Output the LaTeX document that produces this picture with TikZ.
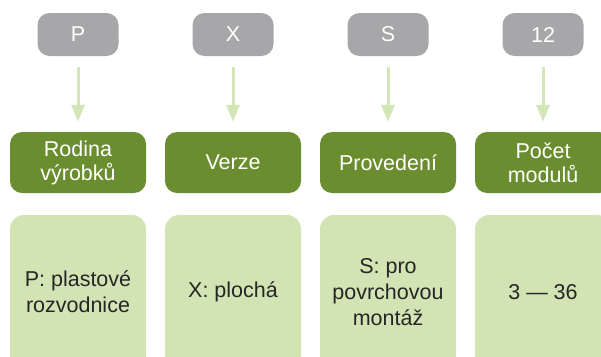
\documentclass[tikz,border=0pt]{standalone}
\usepackage{fontspec}
\setmainfont{Liberation Sans}
\usetikzlibrary{arrows.meta}
\definecolor{codegray}{HTML}{A7A7A9}
\definecolor{headgreen}{HTML}{6A8E2F}
\definecolor{descgreen}{HTML}{D2E4B4}
\definecolor{arrowgreen}{HTML}{D3E6B8}
\definecolor{desctext}{HTML}{262626}
\tikzset{
	codebox/.style={fill=codegray,text=white,rounded corners=12pt,inner sep=0pt,
		minimum width=81pt,minimum height=43pt,font=\fontsize{21.5}{25}\selectfont},
	headbox/.style={fill=headgreen,text=white,rounded corners=12pt,inner sep=0pt,align=center,
		minimum width=136pt,minimum height=61pt,font=\fontsize{21.5}{24}\selectfont},
	descbox/.style={fill=descgreen,text=desctext,rounded corners=14pt,inner sep=0pt,align=center,
		minimum width=136pt,minimum height=154pt,font=\fontsize{21.5}{26}\selectfont},
	flowarrow/.style={-{Triangle[width=13pt,length=17pt]},line width=3pt,arrowgreen,
		shorten <=11pt,shorten >=10pt}
}
\begin{document}
\begin{tikzpicture}[x=1pt,y=-1pt]
		\useasboundingbox (0,0) rectangle (601,356);
		\clip (0,0) rectangle (601,356);
		
		\foreach \x/\code/\head/\desc[count=\i] in {78/P/{Rodina\\výrobků}/{P: plastové\\rozvodnice},
			233/X/{Verze}/{X: plochá},
			388/S/{Provedení}/{S: pro\\povrchovou\\montáž},
			543/12/{Počet\\modulů}/{3 — 36}}{
			\node[codebox] (c\i) at (\x,34.5) {\code};
			\node[headbox] (h\i) at (\x,162.5) {\head};
			\node[descbox] (d\i) at (\x,292) {\desc};
			\draw[flowarrow] (c\i) -- (h\i);
		}
		\end{tikzpicture}
\end{document}
